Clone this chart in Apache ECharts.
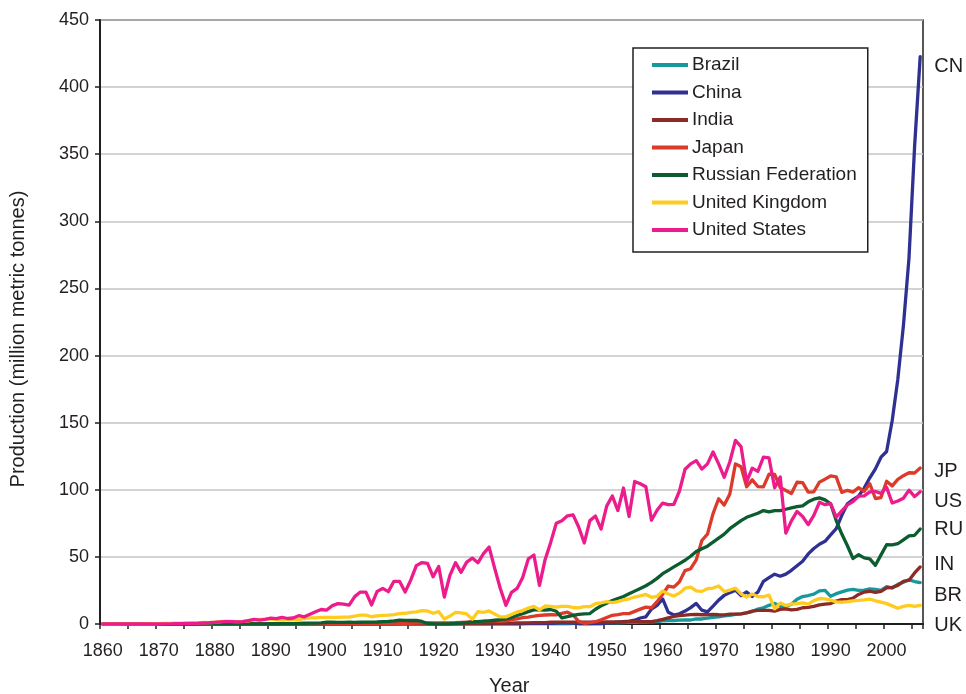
<!DOCTYPE html>
<html>
<head>
<meta charset="utf-8">
<script src="https://cdn.jsdelivr.net/npm/echarts@6/dist/echarts.min.js"></script>
<style>
  html, body { margin: 0; padding: 0; background: #ffffff; }
  #chart { width: 966px; height: 694px; }
</style>
</head>
<body>
<div id="chart"></div>
<script>
// Crude steel production by country, million metric tonnes, 1860–2006
const firstYear = 1860;
const lastYear = 2006;

const brazil = [
  0,0,0,0,0,0,0,0,0,0,                       // 1860s
  0,0,0,0,0,0,0,0,0,0,                       // 1870s
  0,0,0,0,0,0,0,0,0,0,                       // 1880s
  0,0,0,0,0,0,0,0,0,0,                       // 1890s
  0,0,0,0,0,0,0,0,0,0,                       // 1900s
  0,0,0,0,0,0,0,0,0,0,                       // 1910s
  0,0,0,0,0,0.01,0.01,0.01,0.01,0.01,        // 1920s
  0.02,0.03,0.03,0.05,0.05,0.06,0.07,0.08,0.09,0.11,
  0.14,0.16,0.16,0.19,0.22,0.21,0.34,0.39,0.48,0.62,
  0.79,0.84,0.89,1.02,1.15,1.16,1.37,1.47,1.66,1.87,
  2.26,2.49,2.6,2.82,3.04,2.98,3.78,3.73,4.45,4.93,
  5.39,6.0,6.52,7.15,7.5,8.39,9.25,11.16,12.11,13.89,
  15.34,13.23,12.99,14.67,18.39,20.46,21.23,22.23,24.66,25.06,
  20.63,22.62,23.93,25.2,25.75,25.08,25.24,26.15,25.76,24.99,
  27.87,26.72,29.6,31.15,32.91,31.63,30.9
];

const china = [
  0,0,0,0,0,0,0,0,0,0,
  0,0,0,0,0,0,0,0,0,0,
  0,0,0,0,0,0,0,0,0,0,
  0,0,0,0,0,0,0,0,0,0,
  0,0,0,0,0,0,0,0,0,0.01,
  0.05,0.05,0.05,0.05,0.05,0.05,0.05,0.05,0.05,0.05,
  0.07,0.07,0.03,0.03,0.03,0.03,0.03,0.03,0.02,0.02,
  0.02,0.02,0.02,0.03,0.1,0.3,0.4,0.5,0.5,0.5,
  0.5,0.6,0.8,0.9,0.6,0.2,0.1,0.1,0.1,0.16,
  0.61,0.9,1.35,1.77,2.22,2.85,4.47,5.35,11.08,13.87,
  18.66,8.7,6.67,7.62,9.64,12.23,15.32,10.29,9.04,13.33,
  17.79,21.32,23.38,25.22,21.12,23.9,20.46,23.74,31.78,34.48,
  37.12,35.6,37.16,40.02,43.47,46.79,52.2,56.28,59.43,61.59,
  66.35,71.0,80.94,89.56,92.61,95.36,101.24,108.94,115.59,124.26,
  128.5,151.6,182.2,222.3,272.8,355.8,422.7
];

const india = [
  0,0,0,0,0,0,0,0,0,0,
  0,0,0,0,0,0,0,0,0,0,
  0,0,0,0,0,0,0,0,0,0,
  0,0,0,0,0,0,0,0,0,0,
  0,0,0,0,0,0,0,0,0,0,
  0,0,0,0.02,0.06,0.08,0.1,0.12,0.14,0.15,
  0.16,0.2,0.2,0.25,0.3,0.4,0.45,0.5,0.55,0.6,
  0.6,0.55,0.6,0.7,0.8,0.9,0.9,0.95,1.0,1.07,
  1.3,1.4,1.4,1.4,1.3,1.3,1.3,1.3,1.3,1.4,
  1.5,1.5,1.6,1.5,1.7,1.7,1.8,1.7,1.8,2.5,
  3.4,4.5,5.6,6.3,6.6,7.0,7.1,6.9,7.0,7.1,
  6.9,6.8,7.3,7.4,7.6,8.3,9.6,10.1,10.2,10.2,
  9.6,10.9,11.2,10.6,10.9,12.1,12.4,13.1,14.3,14.8,
  15.2,17.1,18.1,18.2,19.3,22.0,23.8,24.4,23.5,24.3,
  26.9,27.3,28.8,31.8,32.6,38.0,42.5
];

const japan = [
  0,0,0,0,0,0,0,0,0,0,
  0,0,0,0,0,0,0,0,0,0,
  0,0,0,0,0,0,0,0,0,0,
  0,0,0,0,0,0,0,0,0,0,
  0,0.01,0.01,0.01,0.02,0.1,0.1,0.1,0.1,0.2,
  0.25,0.3,0.35,0.4,0.4,0.5,0.6,0.8,0.8,0.8,
  0.8,0.8,0.9,0.95,1.1,1.3,1.5,1.7,1.9,2.3,
  2.3,1.9,2.4,3.2,3.8,4.7,5.2,5.8,6.5,6.7,
  6.9,6.8,8.0,8.8,6.7,2.0,0.56,0.95,1.7,3.1,
  4.8,6.5,7.0,7.7,7.75,9.4,11.1,12.6,12.1,16.6,
  22.1,28.3,27.5,31.5,39.8,41.2,47.8,62.2,66.9,82.2,
  93.3,88.6,96.9,119.3,117.1,102.3,107.4,102.4,102.1,111.7,
  111.4,101.7,99.5,97.2,105.6,105.3,98.3,98.5,105.7,107.9,
  110.3,109.6,98.1,99.6,98.3,101.6,98.8,104.5,93.5,94.2,
  106.4,102.9,107.7,110.5,112.7,112.5,116.2
];

const russia = [
  0,0,0,0,0,0,0,0,0,0,
  0,0,0,0,0,0,0.01,0.01,0.02,0.03,
  0.05,0.06,0.07,0.08,0.08,0.1,0.1,0.12,0.13,0.15,
  0.2,0.2,0.25,0.3,0.35,0.45,0.55,0.6,0.7,0.8,
  1.3,1.3,1.2,1.2,1.3,1.2,1.3,1.4,1.4,1.5,
  1.8,2.0,2.3,2.8,2.7,2.6,2.7,1.9,0.4,0.2,
  0.1,0.1,0.2,0.4,0.6,1.0,1.5,1.8,2.1,2.4,
  2.8,3.2,3.8,4.8,6.3,7.6,9.2,10.5,10.6,10.3,
  10.8,9.5,4.5,5.5,6.5,7.2,7.5,7.8,11.0,13.5,
  15.5,17.5,19.0,20.5,22.5,24.5,26.5,28.5,31.0,34.0,
  37.5,40.0,42.5,45.0,47.5,50.5,54.0,56.0,58.0,61.0,
  64.0,67.0,71.0,74.0,77.0,79.5,81.0,82.5,84.5,83.5,
  84.5,84.5,85.5,86.5,87.5,88.0,91.0,93.0,94.0,92.5,
  89.6,77.1,67.0,58.3,48.8,51.6,49.3,48.5,43.7,51.5,
  59.1,59.0,59.8,62.7,65.6,66.1,70.8
];

const unitedKingdom = [
  0,0,0,0,0.05,0.1,0.1,0.15,0.15,0.2,
  0.33,0.4,0.5,0.6,0.6,0.72,0.83,0.9,1.1,1.0,
  1.3,1.8,2.1,2.0,1.8,1.9,2.3,3.2,3.4,3.6,
  3.6,3.2,2.9,3.0,3.1,3.3,4.1,4.5,4.6,4.9,
  5.0,5.0,5.0,5.1,5.1,5.9,6.6,6.6,5.4,6.0,
  6.5,6.6,7.0,7.8,8.0,8.7,9.1,9.9,9.7,8.0,
  9.2,3.7,5.9,8.6,8.3,7.5,3.6,9.2,8.7,9.8,
  7.4,5.3,5.3,7.1,9.0,10.0,11.9,13.2,10.6,13.4,
  13.2,12.5,13.1,13.2,12.3,12.0,12.9,12.9,15.1,15.8,
  16.6,15.9,16.7,17.9,18.8,20.1,21.0,22.0,19.9,20.5,
  24.7,22.4,20.8,23.0,26.7,27.4,24.7,24.3,26.3,26.8,
  28.3,24.2,25.3,26.7,22.4,20.1,22.3,20.5,20.3,21.5,
  11.3,15.6,13.7,15.0,15.1,15.7,14.8,17.4,19.0,18.7,
  17.8,16.5,16.2,16.6,17.3,17.6,18.0,18.5,17.3,16.3,
  15.2,13.5,11.7,13.1,13.8,13.2,13.9
];

const unitedStates = [
  0.01,0.01,0.01,0.01,0.01,0.01,0.02,0.02,0.03,0.03,
  0.07,0.07,0.15,0.2,0.22,0.4,0.54,0.58,0.74,0.95,
  1.27,1.61,1.77,1.70,1.57,1.74,2.60,3.39,2.94,3.43,
  4.35,3.97,5.0,4.1,4.48,6.21,5.37,7.26,9.08,10.8,
  10.4,13.7,15.2,14.8,14.1,20.4,23.8,23.7,14.2,24.3,
  26.5,24.1,31.8,31.8,23.9,32.7,43.5,45.8,45.2,35.2,
  42.8,20.1,36.2,45.7,38.5,46.1,49.1,45.6,52.4,57.3,
  41.4,26.4,13.9,23.6,26.5,34.6,48.5,51.4,28.8,47.9,
  60.8,75.1,77.0,80.6,81.3,72.3,60.4,77.0,80.4,70.7,
  87.8,95.4,84.5,101.3,80.1,106.2,104.5,102.3,77.3,84.8,
  90.1,88.9,89.2,99.1,115.3,119.3,121.7,115.4,119.3,128.2,
  119.3,109.3,120.9,136.8,132.2,105.8,116.1,113.7,124.3,123.7,
  101.5,109.6,67.7,76.8,83.9,80.1,74.0,80.9,90.7,88.9,
  89.7,79.7,84.3,88.8,91.2,95.2,95.5,98.5,98.7,97.3,
  101.8,90.1,91.6,93.7,99.7,94.9,98.6
];

// Legend names, colours and the short code written at the right end of each line
const seriesNames = ['Brazil', 'China', 'India', 'Japan', 'Russian Federation', 'United Kingdom', 'United States'];
const seriesCodes = ['BR', 'CN', 'IN', 'JP', 'RU', 'UK', 'US'];
const seriesColors = ['#16999c', '#2e3192', '#8c2a25', '#dc3a2a', '#0b5c2e', '#ffcb1f', '#ec1c8c'];
const seriesValues = [brazil, china, india, japan, russia, unitedKingdom, unitedStates];
// Vertical nudges keep the end codes from overlapping one another
const codeNudge = [13, 10, -2, 3, 1, 20, 10];

const years = [];
for (let y = firstYear; y <= lastYear; y++) years.push(String(y));

const font = "'Liberation Sans', Arial, Helvetica, sans-serif";
const ink = '#231f20';

const chart = echarts.init(document.getElementById('chart'), null, { renderer: 'canvas' });

const series = seriesNames.map((name, i) => ({
  name: name,
  type: 'line',
  data: seriesValues[i],
  symbol: 'none',
  smooth: false,
  lineStyle: { color: seriesColors[i], width: 3.3, join: 'round', cap: 'round' },
  itemStyle: { color: seriesColors[i] },
  endLabel: {
    show: true,
    formatter: seriesCodes[i],
    distance: 14,
    offset: [0, codeNudge[i]],
    color: ink,
    fontFamily: font,
    fontSize: 20
  },
  emphasis: { disabled: true },
  z: 2 + i
}));

chart.setOption({
  animation: false,
  backgroundColor: '#ffffff',
  grid: {
    left: 100, right: 43, top: 20, bottom: 70,
    show: true, borderColor: '#231f20', borderWidth: 1.5, backgroundColor: 'transparent'
  },
  legend: {
    orient: 'vertical',
    left: 633, top: 48,
    padding: [7, 11, 12, 19],
    itemWidth: 36, itemHeight: 4,
    itemGap: 7.5,
    icon: 'rect',
    backgroundColor: '#ffffff',
    borderColor: '#231f20', borderWidth: 1.5,
    textStyle: { color: ink, fontFamily: font, fontSize: 19, lineHeight: 20, padding: [0, 0, 0, -1] },
    data: seriesNames
  },
  xAxis: {
    type: 'category',
    data: years,
    boundaryGap: true,
    axisLine: { lineStyle: { color: '#231f20', width: 2 } },
    axisTick: { show: true, interval: 4, length: 5, lineStyle: { color: '#231f20', width: 1.5 } },
    axisLabel: { interval: 9, margin: 18, color: ink, fontFamily: font, fontSize: 18 },
    splitLine: { show: false }
  },
  yAxis: {
    type: 'value',
    min: 0, max: 450, interval: 50,
    axisLine: { show: true, lineStyle: { color: '#231f20', width: 2 } },
    axisTick: { show: true, length: 5, lineStyle: { color: '#231f20', width: 1.5 } },
    axisLabel: { margin: 11, color: ink, fontFamily: font, fontSize: 18 },
    splitLine: { show: true, lineStyle: { color: '#c4c4c4', width: 1.5 } }
  },
  graphic: [
    {
      type: 'text',
      left: 489, top: 676,
      style: { text: 'Year', fill: ink, font: '20px ' + font }
    },
    {
      type: 'text',
      x: 18, y: 339,
      rotation: Math.PI / 2,
      style: {
        text: 'Production (million metric tonnes)',
        fill: ink, font: '20px ' + font,
        align: 'center', verticalAlign: 'middle'
      }
    }
  ],
  series: series
});
</script>
</body>
</html>
